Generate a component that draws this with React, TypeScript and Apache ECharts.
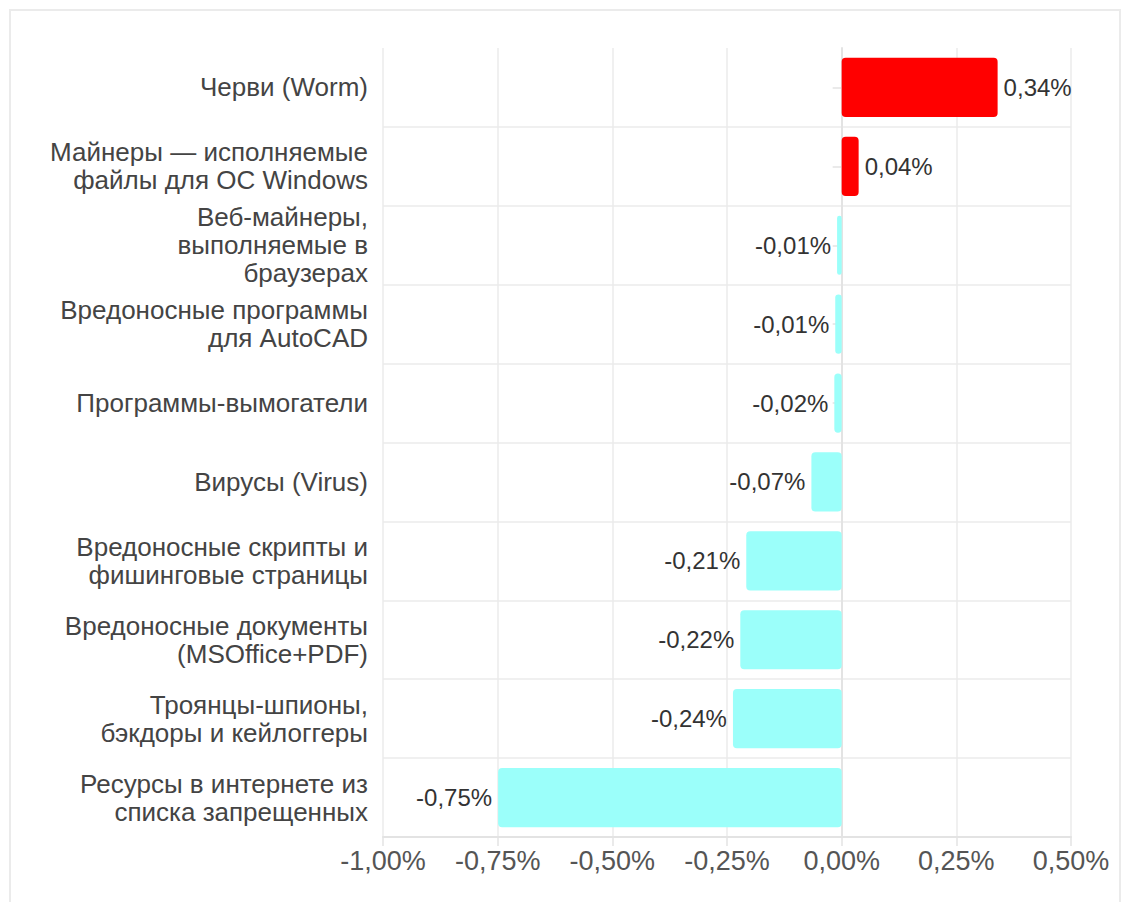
import React, { useEffect, useRef } from "react";
import * as echarts from "echarts";

const categories = [
  "Черви (Worm)",
  "Майнеры — исполняемые\nфайлы для ОС Windows",
  "Веб-майнеры,\nвыполняемые в\nбраузерах",
  "Вредоносные программы\nдля AutoCAD",
  "Программы-вымогатели",
  "Вирусы (Virus)",
  "Вредоносные скрипты и\nфишинговые страницы",
  "Вредоносные документы\n(MSOffice+PDF)",
  "Троянцы-шпионы,\nбэкдоры и кейлоггеры",
  "Ресурсы в интернете из\nсписка запрещенных",
];

const values = [0.34, 0.037, -0.01, -0.014, -0.016, -0.066, -0.208, -0.221, -0.237, -0.749];

const axisMin = -1;
const axisMax = 0.5;
const axisStep = 0.25;

const POS_COLOR = "#ff0000";
const NEG_COLOR = "#9bfffa";

const fmt = (v: number) => v.toFixed(2).replace(".", ",") + "%";

export default function App() {
  const ref = useRef<HTMLDivElement>(null);
  useEffect(() => {
    if (!ref.current) return;
    const chart = echarts.init(ref.current, null, { renderer: "svg" });
    const font = "'Liberation Sans', Arial, sans-serif";
    chart.setOption({
      animation: false,
      grid: { left: 383, right: 54, top: 48, bottom: 65, containLabel: false },
      xAxis: {
        type: "value",
        min: axisMin,
        max: axisMax,
        interval: axisStep,
        axisLine: { show: true, lineStyle: { color: "#e3e3e3", width: 2 } },
        axisTick: { show: true, length: 9, lineStyle: { color: "#e3e3e3", width: 1.5 } },
        splitLine: { show: true, lineStyle: { color: "#ebebeb", width: 1.5 } },
        axisLabel: {
          formatter: (v: number) => fmt(v),
          fontFamily: font,
          fontSize: 27,
          color: "#555",
          margin: 10,
        },
      },
      yAxis: {
        type: "category",
        inverse: true,
        data: categories,
        axisLine: { show: true, lineStyle: { color: "#e3e3e3", width: 2 } },
        axisTick: { show: true, alignWithLabel: true, length: 9, lineStyle: { color: "#e3e3e3", width: 1.5 } },
        splitLine: { show: true, showMinLine: false, showMaxLine: false, lineStyle: { color: "#ebebeb", width: 1.5 } },
        axisLabel: {
          fontFamily: font,
          fontSize: 26,
          lineHeight: 28,
          color: "#444",
          margin: 15,
          align: "right",
        },
      },
      series: [
        {
          type: "bar",
          barCategoryGap: "25%",
          data: values.map((v) => ({
            value: v,
            itemStyle: { color: v >= 0 ? POS_COLOR : NEG_COLOR, borderRadius: 4 },
            label: {
              show: true,
              position: v >= 0 ? "right" : "left",
              distance: 6,
              formatter: () => fmt(v),
              fontFamily: font,
              fontSize: 24,
              color: "#333",
            },
          })),
        },
      ],
    });
    return () => chart.dispose();
  }, []);
  return (
    <div style={{ position: "fixed", left: 0, top: 0, width: 1125, height: 902, overflow: "hidden", background: "#fff" }}>
      <div
        style={{
          position: "absolute",
          left: 9,
          top: 9,
          width: 1108,
          height: 1000,
          border: "2px solid #ebebeb",
        }}
      />
      <div ref={ref} style={{ position: "absolute", left: 0, top: 0, width: 1125, height: 902 }} />
    </div>
  );
}
